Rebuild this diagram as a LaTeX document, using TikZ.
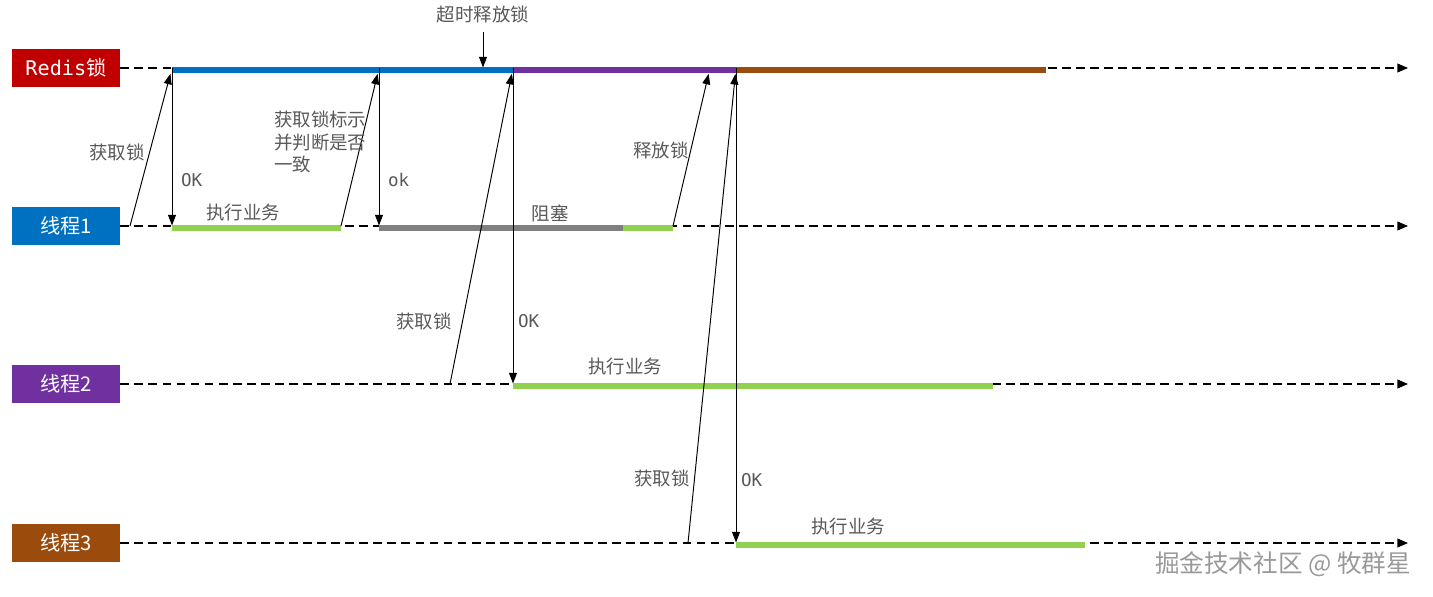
\documentclass[tikz,border=0pt]{standalone}
\usepackage{fontspec}
\setmainfont{Noto Sans CJK SC}
\newfontfamily\monofont{DejaVu Sans Mono}
\usetikzlibrary{arrows.meta}
\definecolor{redisred}{HTML}{C00000}
\definecolor{laneblue}{HTML}{0070C0}
\definecolor{lanepurple}{HTML}{7030A0}
\definecolor{lanebrown}{HTML}{9B4B0B}
\definecolor{workgreen}{HTML}{92D050}
\definecolor{blockgray}{HTML}{808080}
\definecolor{txtgray}{HTML}{595959}
\tikzset{
  lanebox/.style={minimum width=2.16cm,minimum height=0.76cm,inner sep=0pt,
    text=white,font=\fontsize{11.5}{13}\selectfont},
  timeline/.style={dash pattern=on 5pt off 3pt,line width=0.6pt,
    -{Triangle[length=6pt,width=5pt]}},
  seg/.style={line width=3.6pt,transform canvas={yshift=-1.2pt}},
  msgup/.style={line width=0.55pt,-{Triangle[length=6pt,width=4.5pt]},shorten >=3.4pt},
  msgdown/.style={line width=0.55pt,-{Triangle[length=6pt,width=4.5pt]},shorten >=0.3pt},
  lbl/.style={text=txtgray,inner sep=1pt,font=\fontsize{10.5}{13}\selectfont},
  oklbl/.style={text=txtgray,inner sep=1pt,anchor=west,font=\monofont\fontsize{10}{12}\selectfont}
}
\begin{document}
\begin{tikzpicture}[x=0.02cm,y=-0.02cm]
  \useasboundingbox (0,0) rectangle (1433,597);
  % lanes
  \node[lanebox,fill=redisred] (redis) at (66,68) {{\monofont Redis}锁};
  \node[lanebox,fill=laneblue] (th1) at (66,226) {线程1};
  \node[lanebox,fill=lanepurple] (th2) at (66,384) {线程2};
  \node[lanebox,fill=lanebrown] (th3) at (66,543) {线程3};
  \foreach \l/\y in {redis/68,th1/226,th2/384,th3/543}{
    \coordinate (\l end) at (1408,\y);
    \draw[timeline] (\l.east) -- (\l end);
  }
  % points on the lanes
  \coordinate (r1) at (172,68);  \coordinate (r2) at (379,68);
  \coordinate (rt) at (483,68);  \coordinate (r3) at (513,68);
  \coordinate (r4) at (710,68);  \coordinate (r5) at (736,68);
  \coordinate (rx) at (1046,68);
  \coordinate (a1) at (130,226); \coordinate (a2) at (172,226);
  \coordinate (a3) at (341,226); \coordinate (a4) at (379,226);
  \coordinate (a5) at (623,226); \coordinate (a6) at (673,226);
  \coordinate (b1) at (450,384); \coordinate (b2) at (513,384);
  \coordinate (b3) at (993,384);
  \coordinate (c1) at (688,543); \coordinate (c2) at (736,543);
  \coordinate (c3) at (1085,543);
  % lock holders and work
  \draw[seg,laneblue] (r1) -- (r3);
  \draw[seg,lanepurple] (r3) -- (r5);
  \draw[seg,lanebrown] (r5) -- (rx);
  \draw[seg,workgreen] (a2) -- (a3);
  \draw[seg,blockgray] (a4) -- (a5);
  \draw[seg,workgreen] (a5) -- (a6);
  \draw[seg,workgreen] (b2) -- (b3);
  \draw[seg,workgreen] (c2) -- (c3);
  % thread 1
  \draw[msgup] (a1) -- (r1);
  \draw[msgdown] (r1) -- (a2);
  \draw[msgup] (a3) -- (r2);
  \draw[msgdown] (r2) -- (a4);
  \draw[msgup] (a6) -- (r4);
  \node[lbl,anchor=east] (get1) at (147,152) {获取锁};
  \node[oklbl] (ok1) at (179,180) {OK};
  \node[lbl] (work1) at (243,213) {执行业务};
  \node[lbl,anchor=west,align=left] (check) at (272,142) {获取锁标示\\并判断是否\\一致};
  \node[oklbl] (ok2) at (386,180) {ok};
  \node[lbl] (block) at (550,213) {阻塞};
  \node[lbl] (rel) at (661,150) {释放锁};
  % timeout
  \node[lbl] (timeout) at (483,14) {超时释放锁};
  \coordinate (tt) at (483,32);
  \draw[msgdown] (tt) -- (rt);
  % thread 2
  \draw[msgup] (b1) -- (r3);
  \draw[msgdown] (r3) -- (b2);
  \node[lbl] (get2) at (424,321) {获取锁};
  \node[oklbl] (ok3) at (516,321) {OK};
  \node[lbl] (work2) at (625,367) {执行业务};
  % thread 3
  \draw[msgup] (c1) -- (r5);
  \draw[msgdown] (r5) -- (c2);
  \node[lbl] (get3) at (662,478) {获取锁};
  \node[oklbl] (ok4) at (739,480) {OK};
  \node[lbl] (work3) at (848,527) {执行业务};
  % watermark
  \node[text=gray!80,font=\fontsize{14}{16}\selectfont] (mark) at (1283,564) {掘金技术社区 @ 牧群星};
\end{tikzpicture}
\end{document}
